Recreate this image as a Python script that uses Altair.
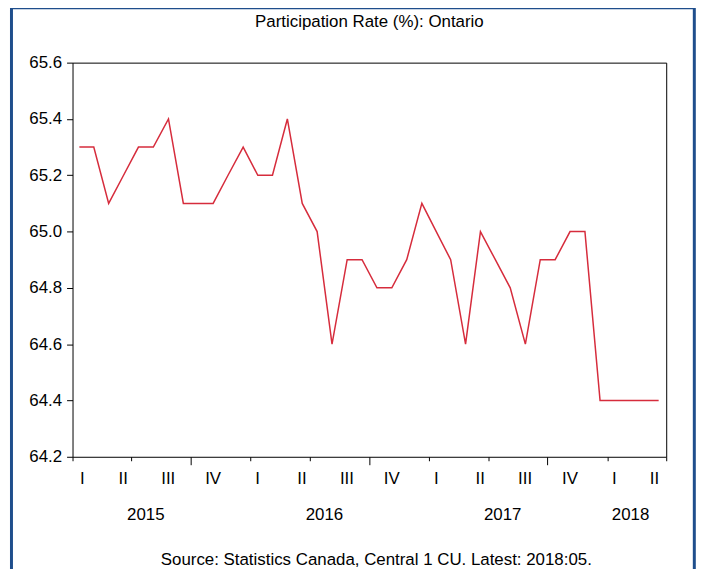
import altair as alt
import pandas as pd

# ---- data ----
first_month = "2015-02-01"
last_month = "2018-05-01"
rate = [
    65.3, 65.3, 65.1, 65.2, 65.3, 65.3, 65.4, 65.1, 65.1, 65.1, 65.2,          # 2015 Feb-Dec
    65.3, 65.2, 65.2, 65.4, 65.1, 65.0, 64.6, 64.9, 64.9, 64.8, 64.8, 64.9,    # 2016
    65.1, 65.0, 64.9, 64.6, 65.0, 64.9, 64.8, 64.6, 64.9, 64.9, 65.0, 65.0,    # 2017
    64.4, 64.4, 64.4, 64.4, 64.4,                                              # 2018 Jan-May
]
quarter_labels = ["I", "II", "III", "IV", "I", "II", "III", "IV",
                  "I", "II", "III", "IV", "I", "II"]
quarter_label_dates = ["2015-02-21", "2015-05-16", "2015-08-16", "2015-11-16",
                       "2016-02-15", "2016-05-16", "2016-08-16", "2016-11-16",
                       "2017-02-15", "2017-05-16", "2017-08-16", "2017-11-16",
                       "2018-02-15", "2018-05-08"]
year_labels = ["2015", "2016", "2017", "2018"]
year_label_dates = ["2015-07-01", "2016-07-01", "2017-07-01", "2018-03-20"]
y_ticks = [64.2, 64.4, 64.6, 64.8, 65.0, 65.2, 65.4, 65.6]
title_text = "Participation Rate (%): Ontario"
source_text = "Source: Statistics Canada, Central 1 CU. Latest: 2018:05."

# ---- tables ----
starts = pd.date_range(first_month, last_month, freq="MS")
bounds = pd.date_range(first_month, pd.Timestamp(last_month) + pd.offsets.MonthBegin(1), freq="MS")
mids = starts + (bounds[1:] - bounds[:-1]) / 2
df = pd.DataFrame({"date": mids, "rate": rate})
tick_ms = [int(b.value // 10**6) for b in bounds]
dom = [tick_ms[0], tick_ms[-1]]

qdf = pd.DataFrame({"date": pd.to_datetime(quarter_label_dates), "label": quarter_labels})
ydf = pd.DataFrame({"date": pd.to_datetime(year_label_dates), "label": year_labels})

W, H = 598, 397
FONT = "Liberation Sans"
FS = 17
RED = "#d62c3c"
BLUE = "#1f4e8c"

xscale = alt.Scale(type="utc", domain=dom)
yscale = alt.Scale(domain=[64.2, 65.6], nice=False, zero=False)

line = alt.Chart(df).mark_line(color=RED, strokeWidth=1.5).encode(
    x=alt.X("date:T", scale=xscale, title=None,
            axis=alt.Axis(values=tick_ms, labels=False, grid=False, domain=False,
                          tickColor="black", tickWidth=1,
                          tickSize={"condition": {"test": "utcmonth(datum.value) % 3 == 0", "value": 8},
                                    "value": 4})),
    y=alt.Y("rate:Q", scale=yscale, title=None,
            axis=alt.Axis(values=y_ticks, format=".1f", grid=False, domain=False,
                          tickColor="black", tickSize=6, labelPadding=5,
                          labelFontSize=FS, labelColor="black", labelFont=FONT)),
)

qtext = alt.Chart(qdf).mark_text(font=FONT, fontSize=FS, color="black", baseline="middle").encode(
    x=alt.X("date:T", scale=xscale), y=alt.value(419.7), text="label:N")

ytext = alt.Chart(ydf).mark_text(font=FONT, fontSize=FS, color="black", baseline="middle").encode(
    x=alt.X("date:T", scale=xscale), y=alt.value(456), text="label:N")

meta = pd.DataFrame({"title": [title_text], "source": [source_text]})
title = alt.Chart(meta).mark_text(font=FONT, fontSize=FS, color="black", baseline="middle").encode(
    x=alt.value(W / 2), y=alt.value(-41), text="title:N")
source = alt.Chart(meta).mark_text(font=FONT, fontSize=FS, color="black", baseline="middle").encode(
    x=alt.value(306), y=alt.value(501.3), text="source:N")
frame = alt.Chart(meta).mark_rect(fill=None, stroke=BLUE, strokeWidth=3).encode(
    x=alt.value(-61.5), x2=alt.value(626.3), y=alt.value(-55.3), y2=alt.value(540))

chart = alt.layer(frame, line, qtext, ytext, title, source).properties(
    width=W, height=H,
    background="white",
    autosize=alt.AutoSizeParams(type="none"),
    padding={"left": 65, "top": 53, "right": 30, "bottom": 111},
).configure_view(stroke="black", strokeWidth=1)

chart.save("out.html", embed_options={"renderer": "svg", "actions": False})
